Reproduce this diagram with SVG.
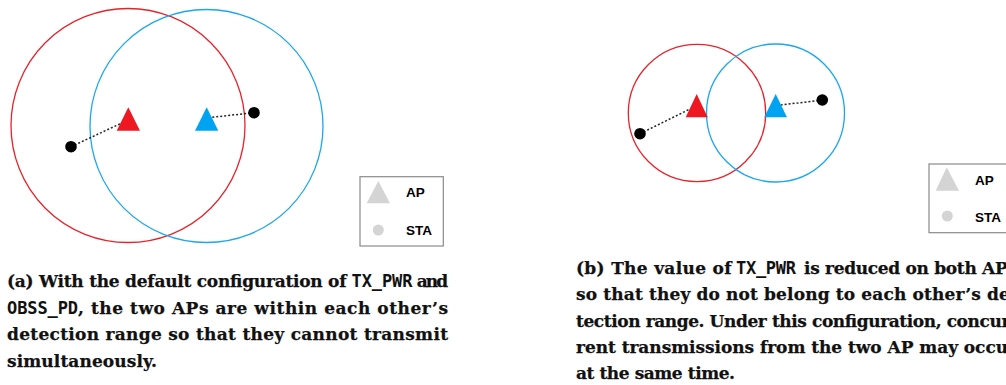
<svg xmlns="http://www.w3.org/2000/svg" width="1006" height="385" viewBox="0 0 1006 385">
<style>
.rc{fill:none;stroke:#e8222c;stroke-width:1.3}
.bc{fill:none;stroke:#1ba6ee;stroke-width:1.3}
.rt{fill:#ee1823}
.bt{fill:#00a3f2}
.sta{fill:#000}
.lnk{stroke:#222;stroke-width:1.5;stroke-dasharray:2 2;fill:none}
.lbox{fill:#fff;stroke:#8a8a8a;stroke-width:1.2}
.lg{fill:#d4d4d4}
.lt{font-family:"Liberation Sans",Arial,sans-serif;font-weight:bold;font-size:13.5px;fill:#000}
.cap{font-family:"DejaVu Serif","Liberation Serif",serif;font-weight:bold;font-size:17px;fill:#111;stroke:#111;stroke-width:0.25}
.mono{font-family:"DejaVu Sans Mono","Liberation Mono",monospace;font-weight:bold;font-size:17px;fill:#111}
</style>
<rect width="1006" height="385" fill="#fff"/>

<!-- Panel (a) -->
<g id="a-range-red"><circle class="rc" cx="128" cy="125.5" r="117"/></g>
<g id="a-range-blue"><circle class="bc" cx="206.5" cy="126" r="116.5"/></g>
<g id="a-connectors">
<line class="lnk" x1="71" y1="146.7" x2="124" y2="122"/>
<line class="lnk" x1="254" y1="112.7" x2="210" y2="117.5"/>
</g>
<g id="a-ap-red"><polygon class="rt" points="128.3,107.3 116.7,130.7 140,130.7"/></g>
<g id="a-ap-blue"><polygon class="bt" points="206.7,107.3 195,130.7 218.3,130.7"/></g>
<g id="a-sta-1"><circle class="sta" cx="71" cy="146.7" r="5.8"/></g>
<g id="a-sta-2"><circle class="sta" cx="254" cy="112.7" r="5.8"/></g>
<g id="a-legend">
<rect class="lbox" x="360" y="176.7" width="83.3" height="69.3"/>
<polygon class="lg" points="378.3,181 366.7,203.3 390,203.3"/>
<text class="lt" x="406" y="197">AP</text>
<circle class="lg" cx="378.3" cy="230" r="5.5"/>
<text class="lt" x="406" y="235">STA</text>
</g>
<g id="a-caption">
<text class="cap" x="7" y="287" textLength="339.5" lengthAdjust="spacing">(a) With the default configuration of</text>
<text class="mono" x="351.5" y="287" textLength="61" lengthAdjust="spacing">TX_PWR</text>
<text class="cap" x="416.7" y="287" textLength="31.5" lengthAdjust="spacing">and</text>
<text class="mono" x="7" y="313.5" textLength="71" lengthAdjust="spacing">OBSS_PD</text>
<text class="cap" x="78" y="313.5" textLength="370" lengthAdjust="spacing">, the two APs are within each other’s</text>
<text class="cap" x="7" y="340" textLength="441" lengthAdjust="spacing">detection range so that they cannot transmit</text>
<text class="cap" x="7" y="366.5" textLength="150" lengthAdjust="spacing">simultaneously.</text>
</g>

<!-- Panel (b) -->
<g id="b-range-red"><circle class="rc" cx="697" cy="113" r="68.7"/></g>
<g id="b-range-blue"><circle class="bc" cx="775.5" cy="113" r="69"/></g>
<g id="b-connectors">
<line class="lnk" x1="640" y1="133.7" x2="690" y2="109"/>
<line class="lnk" x1="822.3" y1="100" x2="781" y2="105"/>
</g>
<g id="b-ap-red"><polygon class="rt" points="696.7,94 685.7,117.3 707.7,117.3"/></g>
<g id="b-ap-blue"><polygon class="bt" points="775.7,94 764.3,117.3 787,117.3"/></g>
<g id="b-sta-1"><circle class="sta" cx="640" cy="133.7" r="5.8"/></g>
<g id="b-sta-2"><circle class="sta" cx="822.3" cy="100" r="5.8"/></g>
<g id="b-legend">
<rect class="lbox" x="929" y="164" width="90" height="68.7"/>
<polygon class="lg" points="946.7,167.3 935.7,190.7 959,190.7"/>
<text class="lt" x="975" y="185">AP</text>
<circle class="lg" cx="947.3" cy="216" r="5.5"/>
<text class="lt" x="975" y="222.3">STA</text>
</g>
<g id="b-caption">
<text class="cap" x="576" y="274" textLength="155.5" lengthAdjust="spacing">(b) The value of</text>
<text class="mono" x="736" y="274" textLength="60" lengthAdjust="spacing">TX_PWR</text>
<text class="cap" x="804" y="274" textLength="213" lengthAdjust="spacing">is reduced on both APs</text>
<text class="cap" x="576" y="300.3" textLength="441" lengthAdjust="spacing">so that they do not belong to each other’s de-</text>
<text class="cap" x="576" y="326.6" textLength="441" lengthAdjust="spacing">tection range. Under this configuration, concur-</text>
<text class="cap" x="576" y="353" textLength="441" lengthAdjust="spacing">rent transmissions from the two AP may occur</text>
<text class="cap" x="576" y="379.3" textLength="159" lengthAdjust="spacing">at the same time.</text>
</g>
</svg>
